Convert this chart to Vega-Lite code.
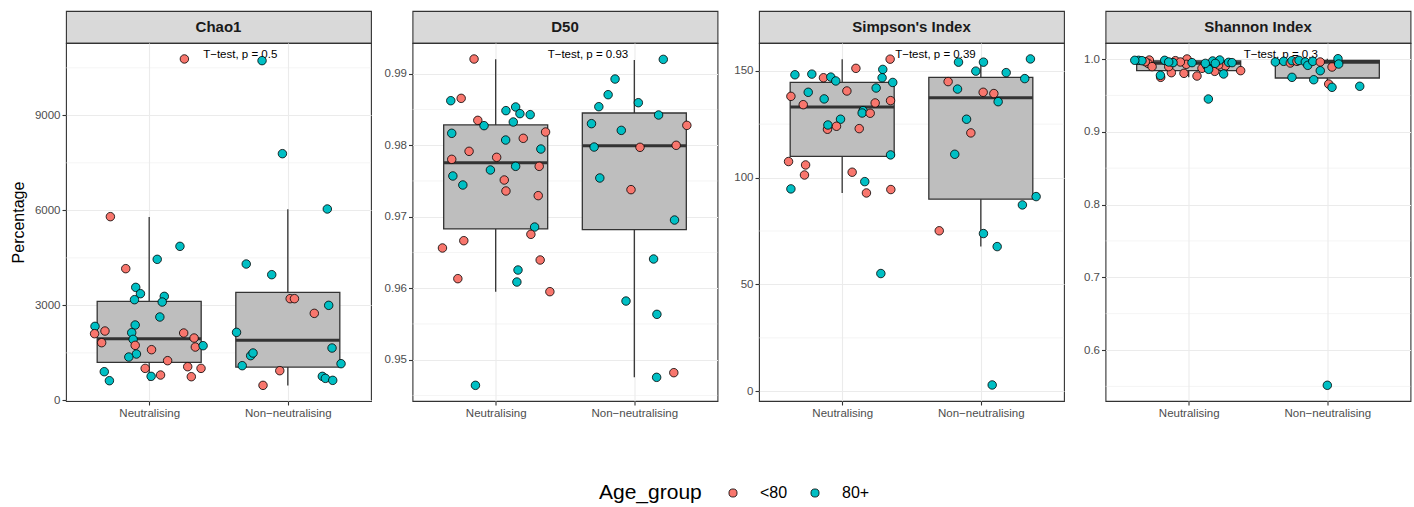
{
"$schema": "https://vega.github.io/schema/vega-lite/v6.json",
"padding": {"left": 9, "top": 10, "right": 2, "bottom": 2},
"datasets": {
"minor": [
{"m":"Chao1","y":1500},{"m":"Chao1","y":4500},{"m":"Chao1","y":7500},{"m":"Chao1","y":10500},
{"m":"D50","y":0.945},{"m":"D50","y":0.955},{"m":"D50","y":0.965},{"m":"D50","y":0.975},{"m":"D50","y":0.985},
{"m":"Simpson","y":25},{"m":"Simpson","y":75},{"m":"Simpson","y":125},
{"m":"Shannon","y":0.55},{"m":"Shannon","y":0.65},{"m":"Shannon","y":0.75},{"m":"Shannon","y":0.85},{"m":"Shannon","y":0.95}
],
"box": [
{"m":"Chao1","g":"Neutralising","lower":621,"q1":1200,"median":1945,"q3":3126,"upper":5788},
{"m":"Chao1","g":"Non−neutralising","lower":468,"q1":1052,"median":1895,"q3":3410,"upper":6031},
{"m":"D50","g":"Neutralising","lower":0.95951,"q1":0.96828,"median":0.97755,"q3":0.98283,"upper":0.99201},
{"m":"D50","g":"Non−neutralising","lower":0.94754,"q1":0.96818,"median":0.97993,"q3":0.9845,"upper":0.99192},
{"m":"Simpson","g":"Neutralising","lower":92.8,"q1":109.9,"median":133.0,"q3":144.5,"upper":155.4},
{"m":"Simpson","g":"Non−neutralising","lower":67.7,"q1":89.9,"median":137.3,"q3":146.9,"upper":155.5},
{"m":"Shannon","g":"Neutralising","lower":0.9748,"q1":0.9839,"median":0.9941,"q3":0.99725,"upper":1.0},
{"m":"Shannon","g":"Non−neutralising","lower":0.9611,"q1":0.9739,"median":0.9955,"q3":0.9982,"upper":1.0004}
],
"ann": [
{"m":"Chao1","g":"Neutralising","v":10904,"label":"T−test, p = 0.5"},
{"m":"D50","g":"Neutralising","v":0.99262,"label":"T−test, p = 0.93"},
{"m":"Simpson","g":"Neutralising","v":157.3,"label":"T−test, p = 0.39"},
{"m":"Shannon","g":"Neutralising","v":1.0055,"label":"T−test, p = 0.3"}
],
"pts": [
{"m":"Chao1","g":"Neutralising","a":"<80","j":0.254,"v":10779},
{"m":"Chao1","g":"Neutralising","a":"<80","j":-0.28,"v":5800},
{"m":"Chao1","g":"Neutralising","a":"<80","j":-0.169,"v":4158},
{"m":"Chao1","g":"Neutralising","a":"80+","j":0.058,"v":4453},
{"m":"Chao1","g":"Neutralising","a":"80+","j":0.222,"v":4863},
{"m":"Chao1","g":"Neutralising","a":"80+","j":-0.097,"v":3568},
{"m":"Chao1","g":"Neutralising","a":"80+","j":-0.063,"v":3368},
{"m":"Chao1","g":"Neutralising","a":"80+","j":-0.106,"v":3179},
{"m":"Chao1","g":"Neutralising","a":"80+","j":0.109,"v":3284},
{"m":"Chao1","g":"Neutralising","a":"80+","j":0.094,"v":3105},
{"m":"Chao1","g":"Neutralising","a":"80+","j":0.077,"v":2632},
{"m":"Chao1","g":"Neutralising","a":"80+","j":-0.391,"v":2337},
{"m":"Chao1","g":"Neutralising","a":"80+","j":-0.101,"v":2379},
{"m":"Chao1","g":"Neutralising","a":"<80","j":-0.394,"v":2105},
{"m":"Chao1","g":"Neutralising","a":"<80","j":-0.319,"v":2189},
{"m":"Chao1","g":"Neutralising","a":"<80","j":-0.343,"v":1821},
{"m":"Chao1","g":"Neutralising","a":"80+","j":-0.126,"v":2137},
{"m":"Chao1","g":"Neutralising","a":"80+","j":-0.116,"v":1926},
{"m":"Chao1","g":"Neutralising","a":"<80","j":-0.101,"v":1737},
{"m":"Chao1","g":"Neutralising","a":"80+","j":-0.092,"v":1463},
{"m":"Chao1","g":"Neutralising","a":"80+","j":-0.147,"v":1368},
{"m":"Chao1","g":"Neutralising","a":"<80","j":0.017,"v":1600},
{"m":"Chao1","g":"Neutralising","a":"<80","j":0.133,"v":1253},
{"m":"Chao1","g":"Neutralising","a":"<80","j":0.249,"v":2126},
{"m":"Chao1","g":"Neutralising","a":"<80","j":0.324,"v":1968},
{"m":"Chao1","g":"Neutralising","a":"<80","j":0.333,"v":1684},
{"m":"Chao1","g":"Neutralising","a":"80+","j":0.389,"v":1726},
{"m":"Chao1","g":"Neutralising","a":"<80","j":-0.029,"v":1010},
{"m":"Chao1","g":"Neutralising","a":"80+","j":0.014,"v":758},
{"m":"Chao1","g":"Neutralising","a":"<80","j":0.082,"v":800},
{"m":"Chao1","g":"Neutralising","a":"<80","j":0.278,"v":1063},
{"m":"Chao1","g":"Neutralising","a":"<80","j":0.304,"v":747},
{"m":"Chao1","g":"Neutralising","a":"<80","j":0.374,"v":1010},
{"m":"Chao1","g":"Neutralising","a":"80+","j":-0.324,"v":905},
{"m":"Chao1","g":"Neutralising","a":"80+","j":-0.287,"v":621},
{"m":"Chao1","g":"Non−neutralising","a":"80+","j":-0.186,"v":10726},
{"m":"Chao1","g":"Non−neutralising","a":"80+","j":-0.039,"v":7789},
{"m":"Chao1","g":"Non−neutralising","a":"80+","j":-0.3,"v":4305},
{"m":"Chao1","g":"Non−neutralising","a":"80+","j":-0.116,"v":3968},
{"m":"Chao1","g":"Non−neutralising","a":"80+","j":0.285,"v":6042},
{"m":"Chao1","g":"Non−neutralising","a":"<80","j":0.017,"v":3211},
{"m":"Chao1","g":"Non−neutralising","a":"<80","j":0.048,"v":3211},
{"m":"Chao1","g":"Non−neutralising","a":"80+","j":0.295,"v":3000},
{"m":"Chao1","g":"Non−neutralising","a":"<80","j":0.191,"v":2747},
{"m":"Chao1","g":"Non−neutralising","a":"80+","j":-0.37,"v":2147},
{"m":"Chao1","g":"Non−neutralising","a":"80+","j":0.319,"v":1653},
{"m":"Chao1","g":"Non−neutralising","a":"80+","j":-0.268,"v":1411},
{"m":"Chao1","g":"Non−neutralising","a":"80+","j":-0.251,"v":1495},
{"m":"Chao1","g":"Non−neutralising","a":"80+","j":-0.329,"v":1095},
{"m":"Chao1","g":"Non−neutralising","a":"<80","j":-0.058,"v":937},
{"m":"Chao1","g":"Non−neutralising","a":"80+","j":0.384,"v":1158},
{"m":"Chao1","g":"Non−neutralising","a":"80+","j":0.249,"v":758},
{"m":"Chao1","g":"Non−neutralising","a":"80+","j":0.271,"v":695},
{"m":"Chao1","g":"Non−neutralising","a":"80+","j":0.324,"v":632},
{"m":"Chao1","g":"Non−neutralising","a":"<80","j":-0.179,"v":474},
{"m":"D50","g":"Neutralising","a":"<80","j":-0.156,"v":0.99205},
{"m":"D50","g":"Neutralising","a":"80+","j":-0.324,"v":0.98622},
{"m":"D50","g":"Neutralising","a":"<80","j":-0.249,"v":0.98655},
{"m":"D50","g":"Neutralising","a":"<80","j":-0.129,"v":0.98347},
{"m":"D50","g":"Neutralising","a":"80+","j":-0.084,"v":0.98273},
{"m":"D50","g":"Neutralising","a":"80+","j":-0.317,"v":0.98166},
{"m":"D50","g":"Neutralising","a":"80+","j":0.074,"v":0.98483},
{"m":"D50","g":"Neutralising","a":"80+","j":0.144,"v":0.98534},
{"m":"D50","g":"Neutralising","a":"80+","j":0.175,"v":0.98441},
{"m":"D50","g":"Neutralising","a":"80+","j":0.249,"v":0.98427},
{"m":"D50","g":"Neutralising","a":"80+","j":0.127,"v":0.98324},
{"m":"D50","g":"Neutralising","a":"<80","j":0.199,"v":0.98096},
{"m":"D50","g":"Neutralising","a":"80+","j":0.072,"v":0.98072},
{"m":"D50","g":"Neutralising","a":"<80","j":0.36,"v":0.98184},
{"m":"D50","g":"Neutralising","a":"80+","j":0.326,"v":0.97946},
{"m":"D50","g":"Neutralising","a":"<80","j":-0.192,"v":0.97914},
{"m":"D50","g":"Neutralising","a":"<80","j":-0.317,"v":0.97802},
{"m":"D50","g":"Neutralising","a":"<80","j":0.007,"v":0.9783},
{"m":"D50","g":"Neutralising","a":"80+","j":0.144,"v":0.97704},
{"m":"D50","g":"Neutralising","a":"<80","j":0.314,"v":0.97704},
{"m":"D50","g":"Neutralising","a":"80+","j":-0.038,"v":0.97653},
{"m":"D50","g":"Neutralising","a":"80+","j":-0.309,"v":0.97569},
{"m":"D50","g":"Neutralising","a":"80+","j":-0.237,"v":0.97443},
{"m":"D50","g":"Neutralising","a":"<80","j":0.062,"v":0.97513},
{"m":"D50","g":"Neutralising","a":"<80","j":0.074,"v":0.97359},
{"m":"D50","g":"Neutralising","a":"<80","j":0.307,"v":0.97294},
{"m":"D50","g":"Neutralising","a":"80+","j":0.281,"v":0.96855},
{"m":"D50","g":"Neutralising","a":"<80","j":0.254,"v":0.96753},
{"m":"D50","g":"Neutralising","a":"<80","j":-0.384,"v":0.96562},
{"m":"D50","g":"Neutralising","a":"<80","j":-0.23,"v":0.96664},
{"m":"D50","g":"Neutralising","a":"<80","j":0.321,"v":0.96394},
{"m":"D50","g":"Neutralising","a":"80+","j":0.161,"v":0.96254},
{"m":"D50","g":"Neutralising","a":"80+","j":0.153,"v":0.96086},
{"m":"D50","g":"Neutralising","a":"<80","j":-0.273,"v":0.96133},
{"m":"D50","g":"Neutralising","a":"<80","j":0.391,"v":0.95951},
{"m":"D50","g":"Neutralising","a":"80+","j":-0.146,"v":0.94641},
{"m":"D50","g":"Non−neutralising","a":"80+","j":0.209,"v":0.992},
{"m":"D50","g":"Non−neutralising","a":"80+","j":-0.139,"v":0.98925},
{"m":"D50","g":"Non−neutralising","a":"80+","j":-0.189,"v":0.98706},
{"m":"D50","g":"Non−neutralising","a":"80+","j":-0.256,"v":0.98538},
{"m":"D50","g":"Non−neutralising","a":"80+","j":0.029,"v":0.98594},
{"m":"D50","g":"Non−neutralising","a":"80+","j":0.175,"v":0.98422},
{"m":"D50","g":"Non−neutralising","a":"<80","j":0.379,"v":0.98277},
{"m":"D50","g":"Non−neutralising","a":"80+","j":-0.309,"v":0.98301},
{"m":"D50","g":"Non−neutralising","a":"80+","j":-0.094,"v":0.98207},
{"m":"D50","g":"Non−neutralising","a":"80+","j":-0.29,"v":0.97974},
{"m":"D50","g":"Non−neutralising","a":"<80","j":0.041,"v":0.9797},
{"m":"D50","g":"Non−neutralising","a":"<80","j":0.302,"v":0.97998},
{"m":"D50","g":"Non−neutralising","a":"80+","j":-0.249,"v":0.97541},
{"m":"D50","g":"Non−neutralising","a":"<80","j":-0.024,"v":0.97378},
{"m":"D50","g":"Non−neutralising","a":"80+","j":0.29,"v":0.96953},
{"m":"D50","g":"Non−neutralising","a":"80+","j":0.139,"v":0.96408},
{"m":"D50","g":"Non−neutralising","a":"80+","j":-0.06,"v":0.9582},
{"m":"D50","g":"Non−neutralising","a":"80+","j":0.163,"v":0.95634},
{"m":"D50","g":"Non−neutralising","a":"80+","j":0.161,"v":0.94753},
{"m":"D50","g":"Non−neutralising","a":"<80","j":0.285,"v":0.94818},
{"m":"Simpson","g":"Neutralising","a":"80+","j":-0.341,"v":148.1},
{"m":"Simpson","g":"Neutralising","a":"80+","j":-0.219,"v":148.4},
{"m":"Simpson","g":"Neutralising","a":"<80","j":-0.135,"v":146.7},
{"m":"Simpson","g":"Neutralising","a":"80+","j":-0.082,"v":147.0},
{"m":"Simpson","g":"Neutralising","a":"80+","j":-0.046,"v":145.2},
{"m":"Simpson","g":"Neutralising","a":"<80","j":0.099,"v":151.1},
{"m":"Simpson","g":"Neutralising","a":"<80","j":0.346,"v":155.4},
{"m":"Simpson","g":"Neutralising","a":"80+","j":0.293,"v":150.6},
{"m":"Simpson","g":"Neutralising","a":"80+","j":0.288,"v":146.7},
{"m":"Simpson","g":"Neutralising","a":"80+","j":0.365,"v":144.5},
{"m":"Simpson","g":"Neutralising","a":"80+","j":0.245,"v":141.9},
{"m":"Simpson","g":"Neutralising","a":"<80","j":0.034,"v":140.5},
{"m":"Simpson","g":"Neutralising","a":"80+","j":-0.245,"v":139.9},
{"m":"Simpson","g":"Neutralising","a":"<80","j":-0.37,"v":138.0},
{"m":"Simpson","g":"Neutralising","a":"80+","j":-0.13,"v":136.8},
{"m":"Simpson","g":"Neutralising","a":"<80","j":-0.281,"v":134.1},
{"m":"Simpson","g":"Neutralising","a":"<80","j":0.349,"v":136.0},
{"m":"Simpson","g":"Neutralising","a":"<80","j":0.238,"v":134.9},
{"m":"Simpson","g":"Neutralising","a":"80+","j":0.151,"v":131.3},
{"m":"Simpson","g":"Neutralising","a":"80+","j":0.144,"v":130.2},
{"m":"Simpson","g":"Neutralising","a":"<80","j":0.202,"v":130.1},
{"m":"Simpson","g":"Neutralising","a":"80+","j":-0.012,"v":127.3},
{"m":"Simpson","g":"Neutralising","a":"<80","j":-0.106,"v":122.6},
{"m":"Simpson","g":"Neutralising","a":"80+","j":-0.103,"v":124.6},
{"m":"Simpson","g":"Neutralising","a":"<80","j":-0.041,"v":124.0},
{"m":"Simpson","g":"Neutralising","a":"<80","j":0.123,"v":122.9},
{"m":"Simpson","g":"Neutralising","a":"80+","j":0.349,"v":110.6},
{"m":"Simpson","g":"Neutralising","a":"<80","j":-0.387,"v":107.5},
{"m":"Simpson","g":"Neutralising","a":"<80","j":-0.264,"v":105.9},
{"m":"Simpson","g":"Neutralising","a":"<80","j":-0.272,"v":101.2},
{"m":"Simpson","g":"Neutralising","a":"<80","j":0.072,"v":102.5},
{"m":"Simpson","g":"Neutralising","a":"80+","j":0.163,"v":98.1},
{"m":"Simpson","g":"Neutralising","a":"<80","j":0.175,"v":92.8},
{"m":"Simpson","g":"Neutralising","a":"<80","j":0.351,"v":94.4},
{"m":"Simpson","g":"Neutralising","a":"80+","j":-0.37,"v":94.7},
{"m":"Simpson","g":"Neutralising","a":"80+","j":0.279,"v":55.1},
{"m":"Simpson","g":"Non−neutralising","a":"80+","j":-0.161,"v":154.0},
{"m":"Simpson","g":"Non−neutralising","a":"80+","j":0.019,"v":154.0},
{"m":"Simpson","g":"Non−neutralising","a":"80+","j":-0.036,"v":149.8},
{"m":"Simpson","g":"Non−neutralising","a":"80+","j":0.358,"v":155.5},
{"m":"Simpson","g":"Non−neutralising","a":"80+","j":0.183,"v":149.1},
{"m":"Simpson","g":"Non−neutralising","a":"80+","j":0.317,"v":146.3},
{"m":"Simpson","g":"Non−neutralising","a":"<80","j":-0.236,"v":144.9},
{"m":"Simpson","g":"Non−neutralising","a":"80+","j":-0.168,"v":141.4},
{"m":"Simpson","g":"Non−neutralising","a":"<80","j":0.017,"v":139.9},
{"m":"Simpson","g":"Non−neutralising","a":"<80","j":0.094,"v":139.3},
{"m":"Simpson","g":"Non−neutralising","a":"80+","j":0.125,"v":135.5},
{"m":"Simpson","g":"Non−neutralising","a":"80+","j":-0.103,"v":127.3},
{"m":"Simpson","g":"Non−neutralising","a":"<80","j":-0.072,"v":120.9},
{"m":"Simpson","g":"Non−neutralising","a":"80+","j":-0.188,"v":110.9},
{"m":"Simpson","g":"Non−neutralising","a":"80+","j":0.399,"v":91.1},
{"m":"Simpson","g":"Non−neutralising","a":"80+","j":0.3,"v":87.2},
{"m":"Simpson","g":"Non−neutralising","a":"<80","j":-0.3,"v":75.1},
{"m":"Simpson","g":"Non−neutralising","a":"80+","j":0.019,"v":73.8},
{"m":"Simpson","g":"Non−neutralising","a":"80+","j":0.118,"v":67.7},
{"m":"Simpson","g":"Non−neutralising","a":"80+","j":0.082,"v":2.96},
{"m":"Shannon","g":"Neutralising","a":"<80","j":-0.284,"v":0.9986},
{"m":"Shannon","g":"Neutralising","a":"<80","j":-0.293,"v":0.994},
{"m":"Shannon","g":"Neutralising","a":"<80","j":-0.264,"v":0.9895},
{"m":"Shannon","g":"Neutralising","a":"<80","j":-0.202,"v":0.9748},
{"m":"Shannon","g":"Neutralising","a":"<80","j":-0.125,"v":0.9812},
{"m":"Shannon","g":"Neutralising","a":"<80","j":-0.096,"v":0.9977},
{"m":"Shannon","g":"Neutralising","a":"<80","j":-0.034,"v":0.9803},
{"m":"Shannon","g":"Neutralising","a":"<80","j":-0.012,"v":1.0},
{"m":"Shannon","g":"Neutralising","a":"<80","j":-0.017,"v":0.9927},
{"m":"Shannon","g":"Neutralising","a":"<80","j":0.06,"v":0.9766},
{"m":"Shannon","g":"Neutralising","a":"<80","j":0.188,"v":0.983},
{"m":"Shannon","g":"Neutralising","a":"<80","j":0.264,"v":0.9904},
{"m":"Shannon","g":"Neutralising","a":"<80","j":0.375,"v":0.984},
{"m":"Shannon","g":"Neutralising","a":"<80","j":-0.313,"v":0.9963},
{"m":"Shannon","g":"Neutralising","a":"<80","j":-0.06,"v":0.9959},
{"m":"Shannon","g":"Neutralising","a":"<80","j":0.216,"v":0.9918},
{"m":"Shannon","g":"Neutralising","a":"<80","j":0.096,"v":0.9872},
{"m":"Shannon","g":"Neutralising","a":"<80","j":-0.144,"v":0.9895},
{"m":"Shannon","g":"Neutralising","a":"80+","j":-0.361,"v":0.9982},
{"m":"Shannon","g":"Neutralising","a":"80+","j":-0.337,"v":0.9977},
{"m":"Shannon","g":"Neutralising","a":"80+","j":-0.204,"v":0.9775},
{"m":"Shannon","g":"Neutralising","a":"80+","j":-0.173,"v":0.9982},
{"m":"Shannon","g":"Neutralising","a":"80+","j":-0.113,"v":0.995},
{"m":"Shannon","g":"Neutralising","a":"80+","j":0.132,"v":0.9904},
{"m":"Shannon","g":"Neutralising","a":"80+","j":0.144,"v":0.9858},
{"m":"Shannon","g":"Neutralising","a":"80+","j":0.173,"v":0.9973},
{"m":"Shannon","g":"Neutralising","a":"80+","j":0.224,"v":0.9986},
{"m":"Shannon","g":"Neutralising","a":"80+","j":0.252,"v":0.9794},
{"m":"Shannon","g":"Neutralising","a":"80+","j":0.288,"v":0.9954},
{"m":"Shannon","g":"Neutralising","a":"80+","j":0.313,"v":0.995},
{"m":"Shannon","g":"Neutralising","a":"80+","j":0.142,"v":0.945},
{"m":"Shannon","g":"Neutralising","a":"80+","j":0.12,"v":0.994},
{"m":"Shannon","g":"Neutralising","a":"80+","j":-0.389,"v":0.9982},
{"m":"Shannon","g":"Neutralising","a":"80+","j":0.024,"v":0.995},
{"m":"Shannon","g":"Neutralising","a":"80+","j":0.192,"v":0.994},
{"m":"Shannon","g":"Neutralising","a":"80+","j":-0.144,"v":0.9959},
{"m":"Shannon","g":"Non−neutralising","a":"80+","j":-0.375,"v":0.9959},
{"m":"Shannon","g":"Non−neutralising","a":"80+","j":-0.315,"v":0.9968},
{"m":"Shannon","g":"Non−neutralising","a":"<80","j":-0.267,"v":0.9945},
{"m":"Shannon","g":"Non−neutralising","a":"80+","j":-0.255,"v":0.9977},
{"m":"Shannon","g":"Non−neutralising","a":"<80","j":-0.219,"v":0.9968},
{"m":"Shannon","g":"Non−neutralising","a":"80+","j":-0.204,"v":0.998},
{"m":"Shannon","g":"Non−neutralising","a":"80+","j":-0.159,"v":0.9959},
{"m":"Shannon","g":"Non−neutralising","a":"80+","j":-0.141,"v":0.9913},
{"m":"Shannon","g":"Non−neutralising","a":"80+","j":-0.105,"v":0.9968},
{"m":"Shannon","g":"Non−neutralising","a":"<80","j":-0.051,"v":0.9959},
{"m":"Shannon","g":"Non−neutralising","a":"80+","j":-0.051,"v":0.9839},
{"m":"Shannon","g":"Non−neutralising","a":"80+","j":-0.255,"v":0.9748},
{"m":"Shannon","g":"Non−neutralising","a":"80+","j":-0.098,"v":0.9715},
{"m":"Shannon","g":"Non−neutralising","a":"<80","j":0.034,"v":0.989},
{"m":"Shannon","g":"Non−neutralising","a":"80+","j":0.077,"v":1.0004},
{"m":"Shannon","g":"Non−neutralising","a":"80+","j":0.082,"v":0.9931},
{"m":"Shannon","g":"Non−neutralising","a":"<80","j":0.01,"v":0.9656},
{"m":"Shannon","g":"Non−neutralising","a":"80+","j":0.034,"v":0.9611},
{"m":"Shannon","g":"Non−neutralising","a":"80+","j":0.234,"v":0.9625},
{"m":"Shannon","g":"Non−neutralising","a":"80+","j":0.0,"v":0.5515}
]
},
"columns": 4,
"spacing": {"row": 0, "column": 41.5},
"bounds": "flush",
"concat": [
{"width": 305, "height": 32, "view": {"fill": "#d9d9d9", "stroke": "#333333", "strokeWidth": 1.1},
 "data": {"values": [{"t": "Chao1"}]},
 "mark": {"type": "text", "fontSize": 15, "fontWeight": "bold", "color": "#1a1a1a", "baseline": "middle", "align": "center"},
 "encoding": {"text": {"field": "t"}}},
{"width": 305, "height": 32, "view": {"fill": "#d9d9d9", "stroke": "#333333", "strokeWidth": 1.1},
 "data": {"values": [{"t": "D50"}]},
 "mark": {"type": "text", "fontSize": 15, "fontWeight": "bold", "color": "#1a1a1a", "baseline": "middle", "align": "center"},
 "encoding": {"text": {"field": "t"}}},
{"width": 305, "height": 32, "view": {"fill": "#d9d9d9", "stroke": "#333333", "strokeWidth": 1.1},
 "data": {"values": [{"t": "Simpson's Index"}]},
 "mark": {"type": "text", "fontSize": 15, "fontWeight": "bold", "color": "#1a1a1a", "baseline": "middle", "align": "center"},
 "encoding": {"text": {"field": "t"}}},
{"width": 305, "height": 32, "view": {"fill": "#d9d9d9", "stroke": "#333333", "strokeWidth": 1.1},
 "data": {"values": [{"t": "Shannon Index"}]},
 "mark": {"type": "text", "fontSize": 15, "fontWeight": "bold", "color": "#1a1a1a", "baseline": "middle", "align": "center"},
 "encoding": {"text": {"field": "t"}}},

{"width": 305, "height": 358,
 "layer": [
  {"data": {"name": "minor"}, "transform": [{"filter": "datum.m == 'Chao1'"}],
   "mark": {"type": "rule", "color": "#ebebeb", "strokeWidth": 0.55},
   "encoding": {"y": {"field": "y", "type": "quantitative"}}},
  {"data": {"name": "box"}, "transform": [{"filter": "datum.m == 'Chao1'"}],
   "mark": {"type": "rule", "color": "#333333", "strokeWidth": 1.3},
   "encoding": {
    "x": {"field": "g", "type": "nominal", "scale": {"type": "point", "padding": 0.6, "domain": ["Neutralising", "Non−neutralising"]}, "axis": {"title": null, "grid": true, "gridColor": "#ebebeb", "gridWidth": 1.1, "labelAngle": 0}},
    "y": {"field": "lower", "type": "quantitative", "title": "Percentage",
      "scale": {"domain": [-20, 11283], "nice": false, "zero": false},
      "axis": {"values": [0, 3000, 6000, 9000], "format": "d", "titlePadding": 8}},
    "y2": {"field": "upper"}}},
  {"data": {"name": "box"}, "transform": [{"filter": "datum.m == 'Chao1'"}],
   "mark": {"type": "bar", "size": 104, "fill": "#bebebe", "stroke": "#333333", "strokeWidth": 1.3},
   "encoding": {"x": {"field": "g", "type": "nominal"}, "y": {"field": "q1", "type": "quantitative"}, "y2": {"field": "q3"}}},
  {"data": {"name": "box"}, "transform": [{"filter": "datum.m == 'Chao1'"}],
   "mark": {"type": "tick", "size": 104, "thickness": 3, "color": "#333333", "opacity": 1},
   "encoding": {"x": {"field": "g", "type": "nominal"}, "y": {"field": "median", "type": "quantitative"}}},
  {"data": {"name": "ann"}, "transform": [{"filter": "datum.m == 'Chao1'"}],
   "mark": {"type": "text", "align": "left", "baseline": "middle", "dx": 54, "fontSize": 11.5, "color": "#000000"},
   "encoding": {"x": {"field": "g", "type": "nominal"}, "y": {"field": "v", "type": "quantitative"}, "text": {"field": "label"}}},
  {"data": {"name": "pts"}, "transform": [{"filter": "datum.m == 'Chao1'"}],
   "mark": {"type": "point", "shape": "circle", "filled": true, "size": 72, "stroke": "#000000", "strokeWidth": 0.8, "opacity": 1},
   "encoding": {"x": {"field": "g", "type": "nominal"},
    "xOffset": {"field": "j", "type": "quantitative", "scale": {"domain": [-0.5, 0.5], "range": [-69.3, 69.3]}},
    "y": {"field": "v", "type": "quantitative"},
    "fill": {"field": "a", "type": "nominal", "scale": {"domain": ["<80", "80+"], "range": ["#F8766D", "#00BFC4"]}, "legend": {"title": "Age_group"}}}}
 ]},

{"width": 305, "height": 358,
 "layer": [
  {"data": {"name": "minor"}, "transform": [{"filter": "datum.m == 'D50'"}],
   "mark": {"type": "rule", "color": "#ebebeb", "strokeWidth": 0.55},
   "encoding": {"y": {"field": "y", "type": "quantitative"}}},
  {"data": {"name": "box"}, "transform": [{"filter": "datum.m == 'D50'"}],
   "mark": {"type": "rule", "color": "#333333", "strokeWidth": 1.3},
   "encoding": {
    "x": {"field": "g", "type": "nominal", "scale": {"type": "point", "padding": 0.6, "domain": ["Neutralising", "Non−neutralising"]}, "axis": {"title": null, "grid": true, "gridColor": "#ebebeb", "gridWidth": 1.1, "labelAngle": 0}},
    "y": {"field": "lower", "type": "quantitative", "title": null,
      "scale": {"domain": [0.94422, 0.99429], "nice": false, "zero": false},
      "axis": {"values": [0.95, 0.96, 0.97, 0.98, 0.99], "format": ".2f"}},
    "y2": {"field": "upper"}}},
  {"data": {"name": "box"}, "transform": [{"filter": "datum.m == 'D50'"}],
   "mark": {"type": "bar", "size": 104, "fill": "#bebebe", "stroke": "#333333", "strokeWidth": 1.3},
   "encoding": {"x": {"field": "g", "type": "nominal"}, "y": {"field": "q1", "type": "quantitative"}, "y2": {"field": "q3"}}},
  {"data": {"name": "box"}, "transform": [{"filter": "datum.m == 'D50'"}],
   "mark": {"type": "tick", "size": 104, "thickness": 3, "color": "#333333", "opacity": 1},
   "encoding": {"x": {"field": "g", "type": "nominal"}, "y": {"field": "median", "type": "quantitative"}}},
  {"data": {"name": "ann"}, "transform": [{"filter": "datum.m == 'D50'"}],
   "mark": {"type": "text", "align": "left", "baseline": "middle", "dx": 52, "fontSize": 11.5, "color": "#000000"},
   "encoding": {"x": {"field": "g", "type": "nominal"}, "y": {"field": "v", "type": "quantitative"}, "text": {"field": "label"}}},
  {"data": {"name": "pts"}, "transform": [{"filter": "datum.m == 'D50'"}],
   "mark": {"type": "point", "shape": "circle", "filled": true, "size": 72, "stroke": "#000000", "strokeWidth": 0.8, "opacity": 1},
   "encoding": {"x": {"field": "g", "type": "nominal"},
    "xOffset": {"field": "j", "type": "quantitative", "scale": {"domain": [-0.5, 0.5], "range": [-69.3, 69.3]}},
    "y": {"field": "v", "type": "quantitative"},
    "fill": {"field": "a", "type": "nominal", "scale": {"domain": ["<80", "80+"], "range": ["#F8766D", "#00BFC4"]}, "legend": {"title": "Age_group"}}}}
 ]},

{"width": 305, "height": 358,
 "layer": [
  {"data": {"name": "minor"}, "transform": [{"filter": "datum.m == 'Simpson'"}],
   "mark": {"type": "rule", "color": "#ebebeb", "strokeWidth": 0.55},
   "encoding": {"y": {"field": "y", "type": "quantitative"}}},
  {"data": {"name": "box"}, "transform": [{"filter": "datum.m == 'Simpson'"}],
   "mark": {"type": "rule", "color": "#333333", "strokeWidth": 1.3},
   "encoding": {
    "x": {"field": "g", "type": "nominal", "scale": {"type": "point", "padding": 0.6, "domain": ["Neutralising", "Non−neutralising"]}, "axis": {"title": null, "grid": true, "gridColor": "#ebebeb", "gridWidth": 1.1, "labelAngle": 0}},
    "y": {"field": "lower", "type": "quantitative", "title": null,
      "scale": {"domain": [-4.54, 162.96], "nice": false, "zero": false},
      "axis": {"values": [0, 50, 100, 150], "format": "d"}},
    "y2": {"field": "upper"}}},
  {"data": {"name": "box"}, "transform": [{"filter": "datum.m == 'Simpson'"}],
   "mark": {"type": "bar", "size": 104, "fill": "#bebebe", "stroke": "#333333", "strokeWidth": 1.3},
   "encoding": {"x": {"field": "g", "type": "nominal"}, "y": {"field": "q1", "type": "quantitative"}, "y2": {"field": "q3"}}},
  {"data": {"name": "box"}, "transform": [{"filter": "datum.m == 'Simpson'"}],
   "mark": {"type": "tick", "size": 104, "thickness": 3, "color": "#333333", "opacity": 1},
   "encoding": {"x": {"field": "g", "type": "nominal"}, "y": {"field": "median", "type": "quantitative"}}},
  {"data": {"name": "ann"}, "transform": [{"filter": "datum.m == 'Simpson'"}],
   "mark": {"type": "text", "align": "left", "baseline": "middle", "dx": 53, "fontSize": 11.5, "color": "#000000"},
   "encoding": {"x": {"field": "g", "type": "nominal"}, "y": {"field": "v", "type": "quantitative"}, "text": {"field": "label"}}},
  {"data": {"name": "pts"}, "transform": [{"filter": "datum.m == 'Simpson'"}],
   "mark": {"type": "point", "shape": "circle", "filled": true, "size": 72, "stroke": "#000000", "strokeWidth": 0.8, "opacity": 1},
   "encoding": {"x": {"field": "g", "type": "nominal"},
    "xOffset": {"field": "j", "type": "quantitative", "scale": {"domain": [-0.5, 0.5], "range": [-69.3, 69.3]}},
    "y": {"field": "v", "type": "quantitative"},
    "fill": {"field": "a", "type": "nominal", "scale": {"domain": ["<80", "80+"], "range": ["#F8766D", "#00BFC4"]}, "legend": {"title": "Age_group"}}}}
 ]},

{"width": 305, "height": 358,
 "layer": [
  {"data": {"name": "minor"}, "transform": [{"filter": "datum.m == 'Shannon'"}],
   "mark": {"type": "rule", "color": "#ebebeb", "strokeWidth": 0.55},
   "encoding": {"y": {"field": "y", "type": "quantitative"}}},
  {"data": {"name": "box"}, "transform": [{"filter": "datum.m == 'Shannon'"}],
   "mark": {"type": "rule", "color": "#333333", "strokeWidth": 1.3},
   "encoding": {
    "x": {"field": "g", "type": "nominal", "scale": {"type": "point", "padding": 0.6, "domain": ["Neutralising", "Non−neutralising"]}, "axis": {"title": null, "grid": true, "gridColor": "#ebebeb", "gridWidth": 1.1, "labelAngle": 0}},
    "y": {"field": "lower", "type": "quantitative", "title": null,
      "scale": {"domain": [0.5299, 1.022], "nice": false, "zero": false},
      "axis": {"values": [0.6, 0.7, 0.8, 0.9, 1], "format": ".1f"}},
    "y2": {"field": "upper"}}},
  {"data": {"name": "box"}, "transform": [{"filter": "datum.m == 'Shannon'"}],
   "mark": {"type": "bar", "size": 104, "fill": "#bebebe", "stroke": "#333333", "strokeWidth": 1.3},
   "encoding": {"x": {"field": "g", "type": "nominal"}, "y": {"field": "q1", "type": "quantitative"}, "y2": {"field": "q3"}}},
  {"data": {"name": "box"}, "transform": [{"filter": "datum.m == 'Shannon'"}],
   "mark": {"type": "tick", "size": 104, "thickness": 3, "color": "#333333", "opacity": 1},
   "encoding": {"x": {"field": "g", "type": "nominal"}, "y": {"field": "median", "type": "quantitative"}}},
  {"data": {"name": "ann"}, "transform": [{"filter": "datum.m == 'Shannon'"}],
   "mark": {"type": "text", "align": "left", "baseline": "middle", "dx": 55, "fontSize": 11.5, "color": "#000000"},
   "encoding": {"x": {"field": "g", "type": "nominal"}, "y": {"field": "v", "type": "quantitative"}, "text": {"field": "label"}}},
  {"data": {"name": "pts"}, "transform": [{"filter": "datum.m == 'Shannon'"}],
   "mark": {"type": "point", "shape": "circle", "filled": true, "size": 72, "stroke": "#000000", "strokeWidth": 0.8, "opacity": 1},
   "encoding": {"x": {"field": "g", "type": "nominal"},
    "xOffset": {"field": "j", "type": "quantitative", "scale": {"domain": [-0.5, 0.5], "range": [-69.3, 69.3]}},
    "y": {"field": "v", "type": "quantitative"},
    "fill": {"field": "a", "type": "nominal", "scale": {"domain": ["<80", "80+"], "range": ["#F8766D", "#00BFC4"]}, "legend": {"title": "Age_group"}}}}
 ]}
],
"config": {
 "font": "Liberation Sans",
 "view": {"stroke": "#333333", "strokeWidth": 1.1},
 "axis": {"labelFont": "Liberation Sans", "labelColor": "#4d4d4d", "labelFontSize": 11.5, "tickColor": "#333333", "tickSize": 4, "tickWidth": 1.1, "labelPadding": 2, "gridColor": "#ebebeb", "gridWidth": 1.1, "domain": false, "titleFont": "Liberation Sans", "titleFontWeight": "normal", "titleColor": "#000000", "titleFontSize": 16},
 "legend": {"orient": "none", "legendX": 533, "legendY": 474, "direction": "horizontal", "titleOrient": "left", "titleFont": "Liberation Sans", "titleFontSize": 21, "titleFontWeight": "normal", "titleColor": "#000000", "titlePadding": 23, "titleBaseline": "middle", "labelFont": "Liberation Sans", "labelFontSize": 16, "labelColor": "#000000", "labelOffset": 19, "columnPadding": 19, "symbolSize": 66, "symbolStrokeColor": "#000000", "symbolStrokeWidth": 0.8, "symbolType": "circle"}
}
}
